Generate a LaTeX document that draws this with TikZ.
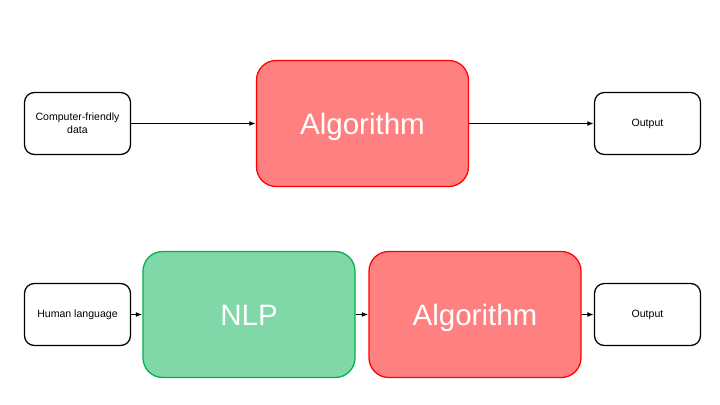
\documentclass[tikz,border=0pt]{standalone}
\usepackage{fontspec}
\setmainfont{Liberation Sans}
\usepackage{tikz}
\usetikzlibrary{arrows.meta,positioning}
\definecolor{algfill}{HTML}{FF8080}
\definecolor{algline}{HTML}{FF0000}
\definecolor{nlpfill}{HTML}{80D8A8}
\definecolor{nlpline}{HTML}{00B050}

\begin{document}
\begin{tikzpicture}[>={Latex[length=1.6mm,width=1.2mm]},line width=0.9pt,every node/.style={font=\fontsize{7.5}{9}\selectfont},
io/.style={draw=black,fill=white,rounded corners=7pt,minimum width=2.65cm,minimum height=1.55cm,align=center,inner sep=0pt},
big/.style={rounded corners=14pt,minimum width=5.3cm,minimum height=3.15cm,align=center,inner sep=0pt,text=white,font=\fontsize{21}{25}\selectfont,text height=15pt,text depth=0pt},
alg/.style={big,draw=algline,fill=algfill},
nlp/.style={big,draw=nlpline,fill=nlpfill}]
\useasboundingbox (0,0) rectangle (18,-10.125);
% top row
\node[io] (Data) at (1.9375,-3.0875) {Computer-friendly\\data};
\node[alg] (AlgA) at (9.0625,-3.0875) {Algorithm};
\node[io] (OutA) at (16.1875,-3.0875) {Output};
\draw[->] (Data) -- (AlgA);
\draw[->] (AlgA) -- (OutA);
% bottom row
\node[io] (Human) at (1.9375,-7.8625) {Human language};
\node[nlp] (NLP) at (6.225,-7.8625) {NLP};
\node[alg] (AlgB) at (11.875,-7.8625) {Algorithm};
\node[io] (OutB) at (16.1875,-7.8625) {Output};
\draw[->] (Human) -- (NLP);
\draw[->] (NLP) -- (AlgB);
\draw[->] (AlgB) -- (OutB);
\end{tikzpicture}
\end{document}
